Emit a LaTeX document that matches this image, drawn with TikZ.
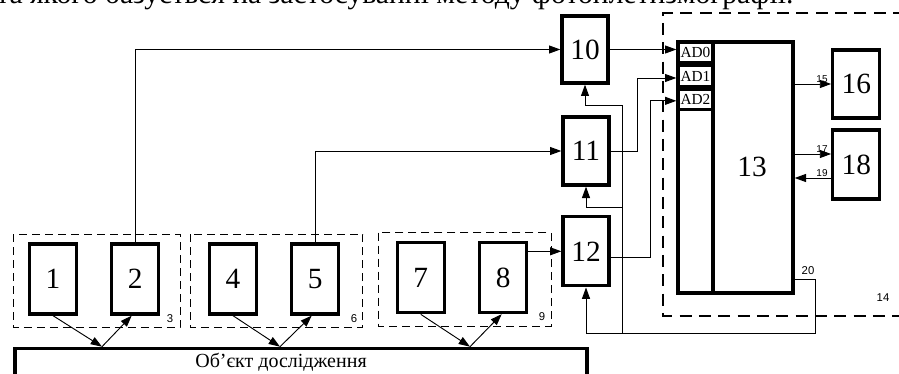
\documentclass[tikz,border=0pt]{standalone}
\usepackage{fontspec}
\setmainfont{Liberation Serif}
\setsansfont{Liberation Sans}
\usetikzlibrary{arrows.meta}

\begin{document}
\begin{tikzpicture}[
		x=0.75pt, y=-0.75pt,
		blk/.style={draw, line width=2.5pt, inner sep=0pt, minimum width=35.25pt, minimum height=52.5pt, font=\fontsize{22}{22}\selectfont},
		adcell/.style={draw, line width=2.5pt, inner sep=0pt, minimum width=26.25pt, minimum height=15.5pt, font=\fontsize{11.5}{11.5}\selectfont},
		grp/.style={line width=0.7pt, dash pattern=on 6pt off 3.75pt},
		wire/.style={line width=0.7pt},
		arr/.style={line width=0.7pt, -{Triangle[length=8.5pt, width=6pt]}},
		lbl/.style={font=\sffamily\fontsize{8.5}{8.5}\selectfont, inner sep=1pt},
		slbl/.style={font=\sffamily\fontsize{7.5}{7.5}\selectfont, inner sep=1pt}
		]
		\useasboundingbox (0,0) rectangle (899,374);
		\node[anchor=base west, inner sep=0pt, font=\fontsize{22.2}{22.2}\selectfont] (toptext) at (-4,3.5) {та якого базується на застосуванні методу фотоплетизмографії.};

		\node[blk] (b1) at (53,279) {1};
		\node[blk] (b2) at (135.3,279) {2};
		\node[blk] (b4) at (233,279) {4};
		\node[blk] (b5) at (315.3,279) {5};
		\node[blk] (b7) at (420.8,277.7) {7};
		\node[blk] (b8) at (503.3,277.5) {8};
		\node[blk, minimum width=34.5pt, minimum height=50.25pt] (b10) at (585,49.5) {10};
		\node[blk, minimum width=34.5pt, minimum height=51pt] (b11) at (586,151) {11};
		\node[blk, minimum width=34.5pt, minimum height=51.75pt] (b12) at (586,251.3) {12};
		\node[blk, minimum height=51pt] (b16) at (856.3,84) {16};
		\node[blk, minimum height=51.75pt] (b18) at (856.3,164.5) {18};

		\node[draw, line width=2.5pt, minimum width=86.25pt, minimum height=188.25pt] (b13) at (735.5,167.5) {};
		\draw[line width=2.5pt] (b13.north -| 713,0) -- (b13.south -| 713,0);
		\node[font=\fontsize{22}{22}\selectfont] (l13) at (752,167) {13};
		\node[adcell] (ad0) at (695.5,52.5) {AD0};
		\node[adcell] (ad1) at (695.5,76) {AD1};
		\node[adcell] (ad2) at (695.5,99.5) {AD2};

		\draw[line width=1.4pt, dash pattern=on 9pt off 5.5pt] (905,13.3) -- (663.3,13.3) -- (663.3,316) -- (905,316);
		\node[lbl] (l14) at (883,298) {14};

		\draw[grp] (13.3,234.3) rectangle (180,327.7);
		\node[lbl] (l3) at (170,319) {3};
		\draw[grp] (190.7,234.3) rectangle (362.7,327.7);
		\node[lbl] (l6) at (354,319) {6};
		\draw[grp] (378.3,232.7) rectangle (551,326);
		\node[lbl] (l9) at (542,317) {9};

		\node[draw, line width=2.5pt, minimum width=429pt, minimum height=40pt, anchor=north west] (obj) at (13.3,346.7) {};
		\node[font=\fontsize{15}{15}\selectfont] (objtext) at (281,362) {Об’єкт дослідження};
		\coordinate (p1) at (102,346.7);
		\coordinate (p2) at (280,346.7);
		\coordinate (p3) at (470,346.7);
		\draw[arr] (b1.south) -- (p1);
		\draw[arr] (p1) -- ([xshift=-2.7pt]b2.south);
		\draw[arr] (b4.south) -- (p2);
		\draw[arr] (p2) -- ([xshift=-2.7pt]b5.south);
		\draw[arr] (b7.south) -- (p3);
		\draw[arr] (p3) -- ([xshift=-1.2pt]b8.south);

		\draw[arr] (b2.north) |- (b10.west);
		\draw[arr] (b5.north) |- (b11.west);
		\draw[arr] (b12.west -| b8.east) -- (b12.west);
		\draw[arr] (b10.east) -- (ad0.west |- b10.east);
		\draw[arr] (b11.east) -- ++(27,0) |- ([yshift=-1.5pt]ad1.west);
		\draw[arr] ([yshift=-4.5pt]b12.east) -- ++(40,0) |- ([yshift=-1pt]ad2.west);

		\draw[arr] (b13.east |- b16.west) -- node[slbl, above, pos=0.75] {15} (b16.west);
		\draw[arr] (b13.east |- 0,154) -- node[slbl, above, pos=0.75] {17} (b18.west |- 0,154);
		\draw[arr] (b18.west |- 0,178) -- node[slbl, above, pos=0.25] {19} (b13.east |- 0,178);

		\coordinate (c20) at (815,333);
		\coordinate (c10) at (622,105);
		\coordinate (c11) at (622,207);
		\draw[arr] (b13.east |- 0,279) -| (c20) -| (b12.south);
		\node[lbl] (l20) at (808,271) {20};
		\draw[arr] (c20 -| c10) -- (c10) -| (b10.south);
		\draw[arr] (c11) -| (b11.south);
	\end{tikzpicture}
\end{document}
